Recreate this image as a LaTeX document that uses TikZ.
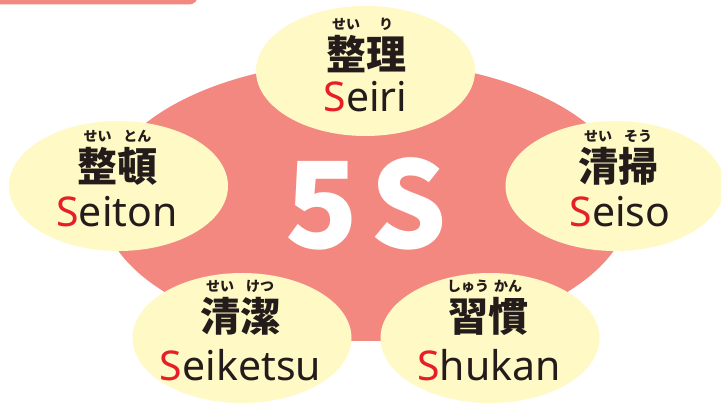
\documentclass[tikz,border=0pt]{standalone}
\usepackage{fontspec}
\usetikzlibrary{shapes.geometric}
\newfontfamily\jpfont{Noto Sans CJK JP}
\newfontfamily\latfont{Noto Sans}
\definecolor{pinkbg}{RGB}{243,136,129}
\definecolor{paleyel}{RGB}{255,249,198}
\definecolor{sred}{RGB}{230,30,38}
\definecolor{ink}{RGB}{35,28,26}
\newcommand\rubyfont{\jpfont\fontsize{14pt}{14pt}\selectfont}
\newcommand\rb[2]{\leavevmode\vbox{\baselineskip=40pt\lineskiplimit=-\maxdimen\halign{\hfil##\hfil\cr\makebox[0pt]{\rubyfont#2}\cr#1\cr}}}
\newcommand\RS{\textcolor{sred}{S}}
\tikzset{
  petal/.style={ellipse, fill=paleyel, minimum width=219pt, minimum height=130pt, inner sep=0pt},
  kanji/.style={anchor=base, inner sep=0pt, text=ink, font=\jpfont\bfseries\fontsize{40pt}{40pt}\selectfont},
  roman/.style={anchor=base, inner sep=0pt, text=ink, font=\latfont\fontsize{41pt}{41pt}\selectfont},
  bigfive/.style={inner sep=0pt, text=white, font=\jpfont\bfseries\fontsize{120pt}{120pt}\selectfont}
}
\begin{document}
\begin{tikzpicture}[x=1pt,y=-1pt]
\clip (0,0) rectangle (721,403);
\fill[white] (0,0) rectangle (721,403);
% top-left bar
\fill[pinkbg, rounded corners=9pt] (-30,-30) rectangle (198,4.5);
% central blob
\node[ellipse, fill=pinkbg, minimum width=530pt, minimum height=280pt, inner sep=0pt] (core) at (366,201) {};
\node[bigfive] (fives) at (366,203.5) {5\hspace{12pt}S};
% petals
\node[petal] (seiri) at (365.5,71) {};
\node[petal] (seiton) at (118.5,186) {};
\node[petal] (seiso) at (615,186) {};
\node[petal] (seiketsu) at (242,338) {};
\node[petal] (shukan) at (490,338) {};
% texts
\node[kanji] (seiriK) at (366,70) {\rb{整}{せい}\rb{理}{り}};
\node[roman] (seiriL) at (365.5,112) {\RS eiri};
\node[kanji] (seitonK) at (117.5,182) {\rb{整}{せい}\rb{頓}{とん}};
\node[roman] (seitonL) at (117,227) {\RS eiton};
\node[kanji] (seisoK) at (618,182) {\rb{清}{せい}\rb{掃}{そう}};
\node[roman] (seisoL) at (620,227) {\RS eiso};
\node[kanji] (seiketsuK) at (240,332) {\rb{清}{せい}\rb{潔}{けつ}};
\node[roman] (seiketsuL) at (240.5,381) {\RS eiketsu};
\node[kanji] (shukanK) at (488,332) {\rb{習}{しゅう}\rb{慣}{かん}};
\node[roman] (shukanL) at (489,381) {\RS hukan};
\end{tikzpicture}
\end{document}
